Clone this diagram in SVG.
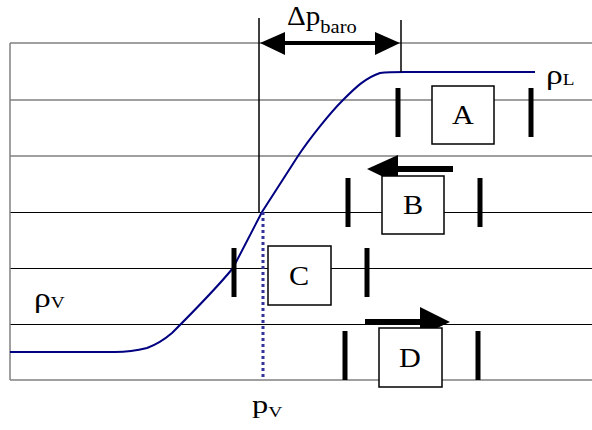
<svg xmlns="http://www.w3.org/2000/svg" width="592" height="430" viewBox="0 0 592 430">
<style>
.grid{stroke:#808080;stroke-width:1.5;fill:none}
.gridk{stroke:#000;stroke-width:1;fill:none}
.bar{stroke:#000;stroke-width:5;fill:none}
.box{fill:#fff;stroke:#000;stroke-width:1.5}
.lbl{font-family:"Liberation Serif","Times New Roman",serif;fill:#000}
.big{font-size:27px;text-anchor:middle}
.thin{stroke:#000;stroke-width:1.5;fill:none}
</style>
<rect width="592" height="430" fill="#fff"/>
<g id="grid">
<line class="grid" x1="10" y1="43" x2="592" y2="43"/>
<line class="grid" x1="10" y1="100" x2="592" y2="100"/>
<line class="grid" x1="10" y1="156" x2="592" y2="156"/>
<line class="gridk" x1="10" y1="212.5" x2="592" y2="212.5"/>
<line class="gridk" x1="10" y1="268.5" x2="592" y2="268.5"/>
<line class="gridk" x1="10" y1="324.5" x2="592" y2="324.5"/>
<line class="grid" x1="10" y1="380" x2="592" y2="380"/>
<line class="grid" x1="10" y1="43" x2="10" y2="380"/>
</g>
<g id="curve">
<path d="M10,352 L115,352 C125,352 135,351 147,348 C158,344 165,339 172,333 C190,315 215,290 233,268 L262,212 L298,156 C310,138 330,113 343,100 C355,88 365,78 380,73 C388,72 395,72 405,72 L535,72" fill="none" stroke="#000080" stroke-width="2"/>
<line x1="263" y1="212" x2="263" y2="380" stroke="#333399" stroke-width="3" stroke-dasharray="3,3"/>
</g>
<g id="markers">
<line class="thin" x1="259" y1="18" x2="259" y2="212"/>
<line class="thin" x1="401" y1="20" x2="401" y2="72"/>
</g>
<g id="connectors">
<g id="dp-arrow">
<line x1="283" y1="43" x2="377" y2="43" stroke="#000" stroke-width="4"/>
<polygon points="260,43 285,32 285,55" fill="#000"/>
<polygon points="400,43 375,32 375,55" fill="#000"/>
</g>
<g id="arrow-B">
<line x1="396" y1="169" x2="453" y2="169" stroke="#000" stroke-width="6"/>
<polygon points="367,169 398,155 398,184" fill="#000"/>
</g>
<g id="arrow-D">
<line x1="365" y1="322" x2="422" y2="322" stroke="#000" stroke-width="6"/>
<polygon points="450,322 420,307 420,336" fill="#000"/>
</g>
</g>
<g id="A">
<line class="bar" x1="398" y1="88" x2="398" y2="137"/>
<line class="bar" x1="531" y1="88" x2="531" y2="137"/>
<rect class="box" x="432" y="86" width="62" height="58"/>
<text class="lbl big" transform="translate(463,124) scale(1.12,1)">A</text>
</g>
<g id="B">
<line class="bar" x1="348" y1="178" x2="348" y2="227"/>
<line class="bar" x1="480" y1="178" x2="480" y2="227"/>
<rect class="box" x="382" y="176" width="62" height="58"/>
<text class="lbl big" transform="translate(413,214) scale(1.12,1)">B</text>
</g>
<g id="C">
<line class="bar" x1="234" y1="248" x2="234" y2="297"/>
<line class="bar" x1="367" y1="248" x2="367" y2="297"/>
<rect class="box" x="268" y="246" width="63" height="59"/>
<text class="lbl big" transform="translate(299,285) scale(1.12,1)">C</text>
</g>
<g id="D">
<line class="bar" x1="345" y1="331" x2="345" y2="380"/>
<line class="bar" x1="478" y1="331" x2="478" y2="380"/>
<rect class="box" x="379" y="328" width="63" height="59"/>
<text class="lbl big" transform="translate(410,367) scale(1.12,1)">D</text>
</g>
<g id="labels">
<text class="lbl" transform="translate(287,25) scale(1.08,1)" font-size="27">Δp<tspan font-size="19" dy="8">baro</tspan></text>
<text class="lbl" transform="translate(546,84) scale(1.2,1)" font-size="28">ρ<tspan font-size="16" dy="1">L</tspan></text>
<text class="lbl" transform="translate(34,307) scale(1.2,1)" font-size="28">ρ<tspan font-size="16" dy="1">V</tspan></text>
<text class="lbl" transform="translate(252,413) scale(1.3,1)" font-size="25">p<tspan font-size="15" dy="4">V</tspan></text>
</g>
</svg>
